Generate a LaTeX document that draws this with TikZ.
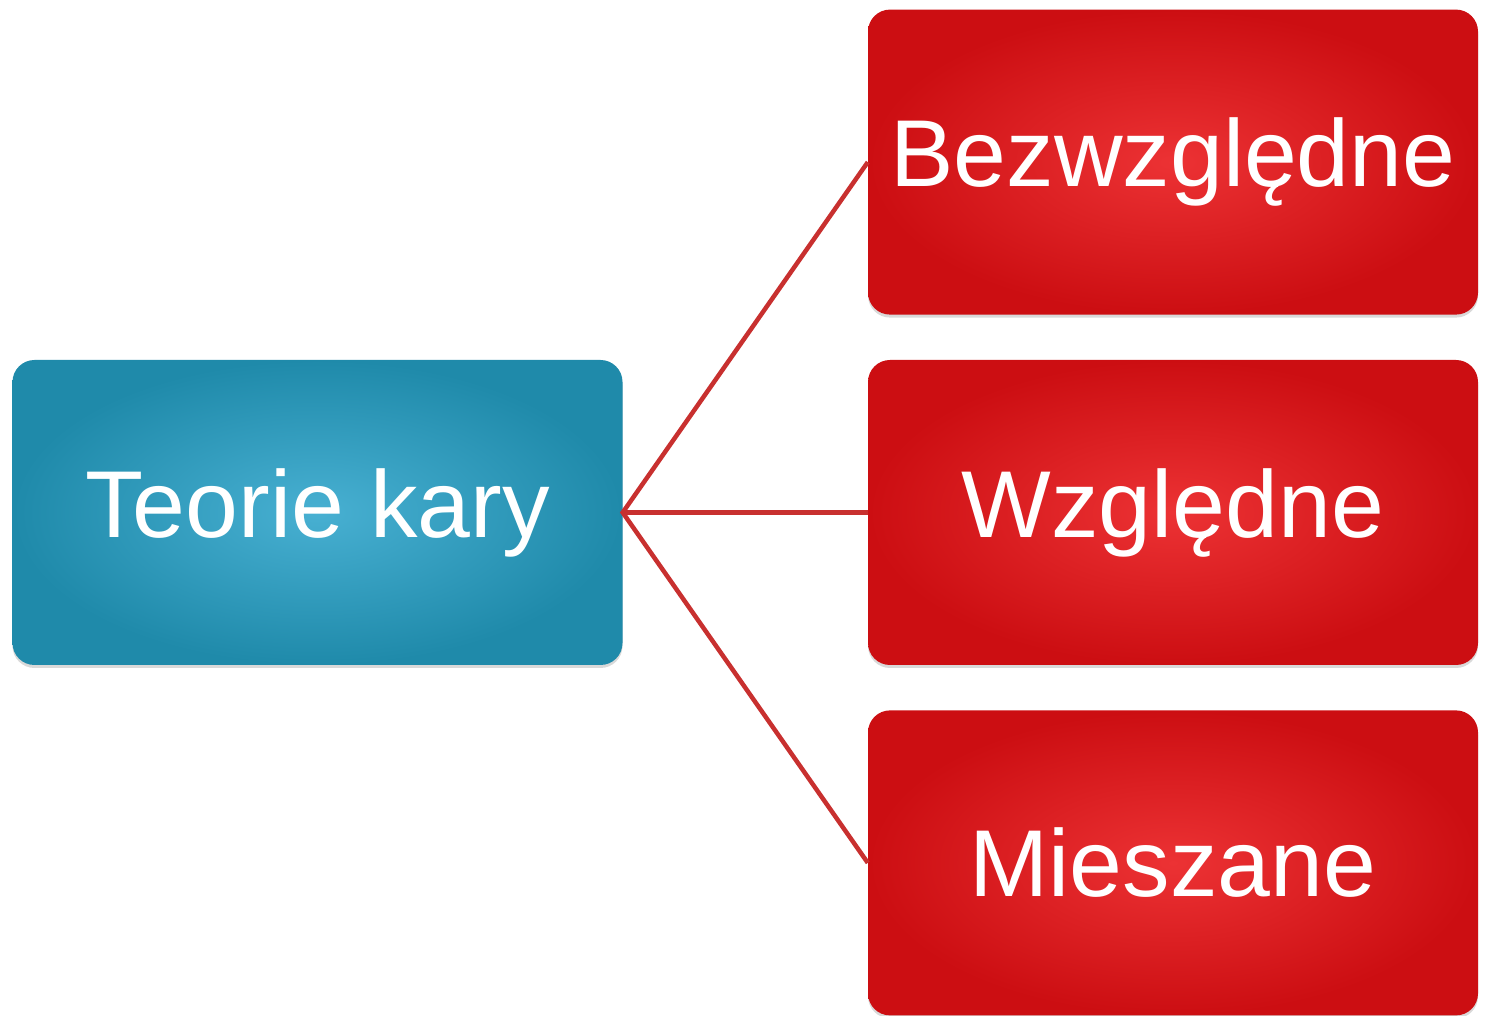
\documentclass[tikz,border=0pt]{standalone}
\usepackage{fontspec}
\setmainfont{Liberation Sans}
\usetikzlibrary{positioning,shadows}
\definecolor{blueout}{HTML}{1F8AAA}
\definecolor{bluein}{HTML}{48B0D2}
\definecolor{redout}{HTML}{CC0E12}
\definecolor{redin}{HTML}{EC3234}
\definecolor{linecolor}{HTML}{C8302F}
\def\boxw{610pt}
\def\boxh{305pt}
\def\boxsep{45pt}
\begin{document}
\begin{tikzpicture}[x=1pt,y=1pt,
    box/.style={
        rounded corners=22pt,
        minimum width=\boxw,
        minimum height=\boxh,
        inner sep=0pt,
        text=white,
        font=\fontsize{95}{110}\selectfont,
        drop shadow={shadow xshift=0pt,shadow yshift=-3pt,opacity=0.3}
      },
    bluebox/.style={box, shade, inner color=bluein, outer color=blueout},
    redbox/.style={box, shade, inner color=redin, outer color=redout},
    link/.style={linecolor, line width=4.5pt}]
  \useasboundingbox (0,0) rectangle (1485,1016);

  % root and leaves
  \node[bluebox] (teorie) at (317.5,503.5) {Teorie kary};
  \node[redbox] (wzgledne) at (1173,503.5) {Względne};
  \node[redbox, above=\boxsep of wzgledne] (bezwzgledne) {Bezwzględne};
  \node[redbox, below=\boxsep of wzgledne] (mieszane) {Mieszane};

  % connectors
  \draw[link] (bezwzgledne.west) -- (teorie.east) -- (mieszane.west);
  \draw[link] (teorie.east) -- (wzgledne.west);
\end{tikzpicture}
\end{document}
